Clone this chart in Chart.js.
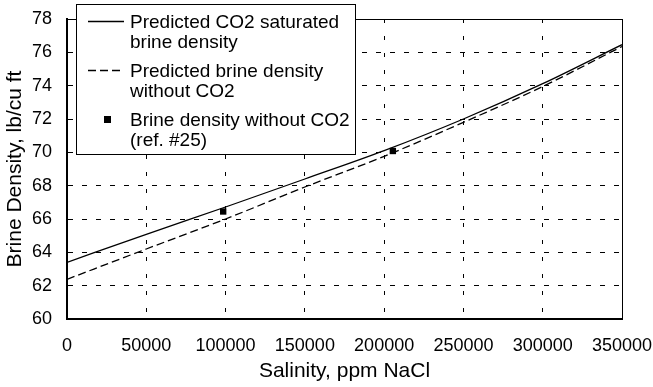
<!DOCTYPE html>
<html>
<head>
<meta charset="utf-8">
<script src="https://cdn.jsdelivr.net/npm/chart.js@4.4.1/dist/chart.umd.min.js"></script>
<style>
  html, body { margin: 0; padding: 0; background: #fff; }
  #wrap { width: 653px; height: 387px; }
</style>
</head>
<body>
<div id="wrap"><canvas id="densityChart"></canvas></div>
<script>
// salinity grid (ppm NaCl) and predicted brine densities (lb/cu ft)
const salinity = [0, 50000, 100000, 150000, 200000, 250000, 300000, 350000];
const densityCo2 = [63.40, 65.08, 66.72, 68.40, 70.10, 72.00, 74.12, 76.46];
const densityNoCo2 = [62.38, 64.20, 66.00, 67.92, 69.76, 71.80, 73.95, 76.35];

// measured points, ref. #25
const refSalinity = [98500, 205500];
const refDensity = [66.45, 70.08];

const legendLines = [
  ["Predicted CO2 saturated", "brine density"],
  ["Predicted brine density", "without CO2"],
  ["Brine density without CO2", "(ref. #25)"]
];

const FONT = "'Liberation Sans', Arial, sans-serif";

// thin top/right frame around the plot
const framePlugin = {
  id: "frame",
  afterDatasetsDraw(chart) {
    const { ctx, chartArea: a } = chart;
    ctx.save();
    ctx.strokeStyle = "#000";
    ctx.lineWidth = 1;
    ctx.beginPath();
    ctx.moveTo(a.left, Math.round(a.top) + 0.5);
    ctx.lineTo(Math.round(a.right) + 0.5, Math.round(a.top) + 0.5);
    ctx.lineTo(Math.round(a.right) + 0.5, a.bottom);
    ctx.stroke();
    ctx.restore();
  }
};

// boxed legend with two-line labels
const boxLegend = {
  id: "boxLegend",
  afterDraw(chart) {
    const ctx = chart.ctx;
    const x0 = 76.5, y0 = 4.5, w = 279, h = 150;
    ctx.save();
    ctx.fillStyle = "#fff";
    ctx.fillRect(x0, y0, w, h);
    ctx.strokeStyle = "#000";
    ctx.lineWidth = 1;
    ctx.strokeRect(x0, y0, w, h);

    ctx.font = "19px " + FONT;
    ctx.fillStyle = "#000";
    ctx.textBaseline = "alphabetic";
    const baselines = [28, 77, 126];
    legendLines.forEach((lines, i) => {
      const b = baselines[i];
      lines.forEach((t, j) => ctx.fillText(t, 130, b + j * 19.5));
      const cy = b - 7;
      const ds = chart.data.datasets[i];
      if (ds.showLine === false) {
        ctx.fillRect(104, cy - 3, 7, 7);
      } else {
        ctx.beginPath();
        ctx.setLineDash(ds.borderDash || []);
        ctx.lineWidth = ds.borderWidth;
        ctx.moveTo(88, cy + 0.5);
        ctx.lineTo(124, cy + 0.5);
        ctx.stroke();
        ctx.setLineDash([]);
      }
    });
    ctx.restore();
  }
};

new Chart(document.getElementById("densityChart"), {
  type: "line",
  data: {
    datasets: [
      {
        data: salinity.map((s, i) => ({ x: s, y: densityCo2[i] })),
        borderColor: "#000",
        borderWidth: 1.3,
        pointRadius: 0,
        cubicInterpolationMode: "monotone"
      },
      {
        data: salinity.map((s, i) => ({ x: s, y: densityNoCo2[i] })),
        borderColor: "#000",
        borderWidth: 1.3,
        borderDash: [8, 4],
        pointRadius: 0,
        cubicInterpolationMode: "monotone"
      },
      {
        data: refSalinity.map((s, i) => ({ x: s, y: refDensity[i] })),
        showLine: false,
        pointStyle: "rect",
        pointRadius: 4.5,
        backgroundColor: "#000",
        borderColor: "#000",
        borderWidth: 0
      }
    ]
  },
  options: {
    responsive: true,
    maintainAspectRatio: false,
    animation: false,
    layout: { padding: { top: 19, right: 31, left: 0, bottom: 0 } },
    plugins: { legend: { display: false }, tooltip: { enabled: false } },
    scales: {
      x: {
        type: "linear",
        min: 0,
        max: 350000,
        afterFit(scale) {
          scale.height = 68;
          scale.paddingLeft = 0;
          scale.paddingRight = 0;
        },
        grid: { color: "#000", lineWidth: 1, drawTicks: false },
        border: { color: "#000", width: 2, dash: [4, 13] },
        ticks: {
          stepSize: 50000,
          padding: 16,
          color: "#000",
          font: { family: FONT, size: 18 },
          maxRotation: 0,
          callback: v => String(v)
        },
        title: {
          display: true,
          text: "Salinity, ppm NaCl",
          color: "#000",
          font: { family: FONT, size: 21 },
          padding: { top: 0, bottom: 3 }
        }
      },
      y: {
        min: 60,
        max: 78,
        afterFit(scale) {
          scale.width = 67;
          scale.paddingTop = 0;
          scale.paddingBottom = 0;
        },
        grid: { color: "#000", lineWidth: 1, drawTicks: false },
        border: { color: "#000", width: 2, dash: [5, 9] },
        ticks: {
          stepSize: 2,
          padding: 15,
          color: "#000",
          font: { family: FONT, size: 18 }
        },
        title: {
          display: true,
          text: "Brine Density, lb/cu ft",
          color: "#000",
          font: { family: FONT, size: 21 },
          padding: { top: 3, bottom: 0 }
        }
      }
    }
  },
  plugins: [framePlugin, boxLegend]
});
</script>
</body>
</html>
